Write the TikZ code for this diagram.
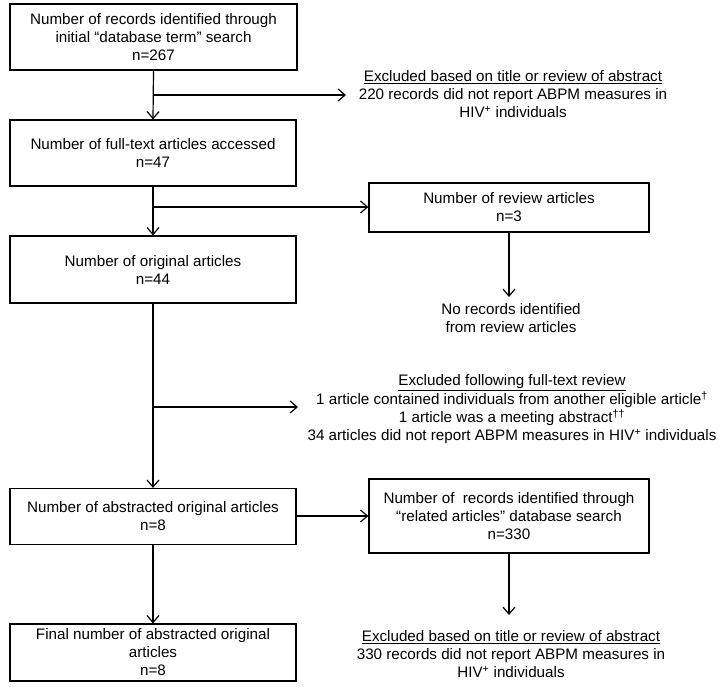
\documentclass[tikz,border=0pt]{standalone}
\usepackage{fontspec}
\setmainfont{Liberation Sans}
\usetikzlibrary{arrows.meta}
\tikzset{
  box/.style={draw, line width=1.2pt, align=center, inner sep=0pt, font=\fontsize{15.2}{18}\selectfont},
  txt/.style={align=center, inner sep=0pt, font=\fontsize{15.2}{18}\selectfont},
  conn/.style={line width=1.2pt, -{Straight Barb[length=7pt,width=12pt,line width=1.2pt]}},
  plain/.style={line width=1.2pt}
}
\newcommand{\hivp}{HIV\textsuperscript{+}}
\begin{document}
\begin{tikzpicture}[x=1pt,y=-1pt]
\useasboundingbox (0,0) rectangle (720,686);
% boxes
\node[box, minimum width=287pt, minimum height=66pt] (b1) at (153.5,37) {Number of records identified through\\initial “database term” search\\n=267};
\node[box, minimum width=286pt, minimum height=66pt] (b2) at (153,153) {Number of full-text articles accessed\\n=47};
\node[box, minimum width=286pt, minimum height=67pt] (b3) at (153,269.5) {Number of original articles\\n=44};
\node[box, minimum width=286pt, minimum height=56pt] (b4) at (153,516.5) {Number of abstracted original articles\\n=8};
\node[box, minimum width=286pt, minimum height=57pt] (b6) at (153,652.5) {Final number of abstracted original\\articles\\n=8};
\node[box, minimum width=280pt, minimum height=49pt] (rv) at (509,207.5) {Number of review articles\\n=3};
\node[box, minimum width=280pt, minimum height=74pt] (b5) at (509,516) {Number of\ \ records identified through\\“related articles” database search\\n=330};
% free texts
\node[txt] (ta) at (513,94) {\underline{Excluded based on title or review of abstract}\\220 records did not report ABPM measures in\\\hivp{} individuals};
\node[txt] (tb) at (511,318) {No records identified\\from review articles};
\node[txt] (tc) at (512,409) {\underline{Excluded following full-text review}\\1 article contained individuals from another eligible article\textsuperscript{†}\\1 article was a meeting abstract\textsuperscript{††}\\34 articles did not report ABPM measures in \hivp{} individuals};
\node[txt] (td) at (511,654) {\underline{Excluded based on title or review of abstract}\\330 records did not report ABPM measures in\\\hivp{} individuals};
% coordinates
\coordinate (j1) at (153,95);
\coordinate (e1) at (346,95);
\coordinate (j2) at (153,207);
\coordinate (j3) at (153,407);
\coordinate (e3) at (298,407);
\coordinate (e4) at (509,297);
\coordinate (e5) at (509,615);
% connectors
\draw[conn] (b1.south) -- (b2.north);
\draw[conn] (j1) -- (e1);
\draw[conn] (b2.south) -- (b3.north);
\draw[conn] (j2) -- (rv.west |- j2);
\draw[conn] (rv.south) -- (e4);
\draw[conn] (b3.south) -- (b4.north);
\draw[conn] (j3) -- (e3);
\draw[conn] (b4.south) -- (b6.north);
\draw[conn] (b4.east |- b5.west) -- (b5.west);
\draw[conn] (b5.south) -- (e5);
\end{tikzpicture}
\end{document}
